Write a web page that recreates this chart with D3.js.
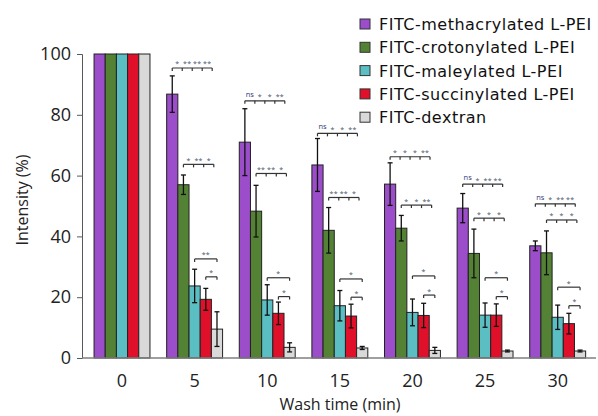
<!DOCTYPE html>
<html>
<head>
<meta charset="utf-8">
<script src="https://cdn.jsdelivr.net/npm/d3@7"></script>
<style>
  body { margin: 0; background: #fff; }
  svg { display: block; font-family: 'Open Sans', sans-serif; }
</style>
</head>
<body>
<div id="chart"></div>
<script>
// wash times (min) on the x axis
const washTimes = ['0', '5', '10', '15', '20', '25', '30'];
const seriesNames = [
  'FITC-methacrylated L-PEI',
  'FITC-crotonylated L-PEI',
  'FITC-maleylated L-PEI',
  'FITC-succinylated L-PEI',
  'FITC-dextran'
];
const colors = ['#9b4dca', '#548235', '#5bbec3', '#e0102a', '#d9d9d9'];

// mean intensity (%) per series
const methacrylated = [100, 86.8, 71, 63.5, 57.2, 49.3, 36.9];
const crotonylated = [100, 57, 48.3, 42, 42.7, 34.4, 34.6];
const maleylated = [100, 23.7, 19.1, 17.2, 15, 14.1, 13.4];
const succinylated = [100, 19.3, 14.7, 13.8, 14, 14.1, 11.3];
const dextran = [100, 9.5, 3.5, 3.3, 2.5, 2.3, 2.3];

// error (+/-)
const methacrylatedErr = [0, 6, 11, 8.7, 7, 4.8, 1.6];
const crotonylatedErr = [0, 3.2, 8.5, 7.5, 4.2, 8, 7.2];
const maleylatedErr = [0, 5.5, 5, 5, 4.4, 4, 4];
const succinylatedErr = [0, 3.6, 3.7, 3.9, 4, 3.7, 3.4];
const dextranErr = [0, 5.7, 1.5, 0.5, 1, 0.3, 0.3];

// significance brackets per time point: start series, height (in %), labels
const sig5 = [
  { from: 0, level: 95.4, labels: ['*', '**', '**', '**'] },
  { from: 1, level: 63.7, labels: ['*', '**', '*'] },
  { from: 2, level: 32.6, labels: ['**'] },
  { from: 3, level: 26.7, labels: ['*'] }
];
const sig10 = [
  { from: 0, level: 84.6, labels: ['ns', '*', '*', '**'] },
  { from: 1, level: 60.7, labels: ['**', '**', '*'] },
  { from: 2, level: 26.4, labels: ['*'] },
  { from: 3, level: 20.2, labels: ['*'] }
];
const sig15 = [
  { from: 0, level: 73.9, labels: ['ns', '*', '*', '**'] },
  { from: 1, level: 52.8, labels: ['**', '**', '*'] },
  { from: 2, level: 26, labels: ['*'] },
  { from: 3, level: 20, labels: ['*'] }
];
const sig20 = [
  { from: 0, level: 66.2, labels: ['*', '*', '*', '**'] },
  { from: 1, level: 50.3, labels: ['*', '*', '**'] },
  { from: 2, level: 27, labels: ['*'] },
  { from: 3, level: 20.7, labels: ['*'] }
];
const sig25 = [
  { from: 0, level: 57.2, labels: ['ns', '*', '**', '**'] },
  { from: 1, level: 46, labels: ['*', '*', '*'] },
  { from: 2, level: 26.4, labels: ['*'] },
  { from: 3, level: 20.2, labels: ['*'] }
];
const sig30 = [
  { from: 0, level: 50.7, labels: ['ns', '*', '**', '**'] },
  { from: 1, level: 45.4, labels: ['*', '*', '*'] },
  { from: 2, level: 23.3, labels: ['*'] },
  { from: 3, level: 17.2, labels: ['*'] }
];
const yTicks = [0, 20, 40, 60, 80, 100];

const means = [methacrylated, crotonylated, maleylated, succinylated, dextran];
const errs = [methacrylatedErr, crotonylatedErr, maleylatedErr, succinylatedErr, dextranErr];
const sigs = [[], sig5, sig10, sig15, sig20, sig25, sig30];

const width = 598, height = 416;
const svg = d3.select('#chart').append('svg')
  .attr('width', width)
  .attr('height', height);

const xScale = d3.scaleBand()
  .domain(washTimes)
  .range([85.7, 594])
  .paddingInner(0.23)
  .paddingOuter(0.115);
const xInner = d3.scaleBand()
  .domain(d3.range(seriesNames.length))
  .range([0, xScale.bandwidth()]);
const yScale = d3.scaleLinear()
  .domain([0, 100])
  .range([358, 54]);

const barData = [];
washTimes.forEach((t, i) => {
  means.forEach((s, k) => {
    barData.push({ time: t, idx: i, series: k, value: s[i], err: errs[k][i] });
  });
});
const barCenter = (i, k) => xScale(washTimes[i]) + xInner(k) + xInner.bandwidth() / 2;

// bars
svg.append('g')
  .selectAll('rect')
  .data(barData)
  .enter()
  .append('rect')
  .attr('x', (d) => xScale(d.time) + xInner(d.series))
  .attr('y', (d) => yScale(d.value))
  .attr('width', xInner.bandwidth())
  .attr('height', (d) => yScale(0) - yScale(d.value))
  .attr('fill', (d) => colors[d.series])
  .attr('stroke', '#222')
  .attr('stroke-width', 1);

// error bars
const errG = svg.append('g')
  .selectAll('g')
  .data(barData.filter((d) => d.err > 0))
  .enter()
  .append('g')
  .attr('stroke', '#111')
  .attr('stroke-width', 1.3);
errG.append('line')
  .attr('x1', (d) => barCenter(d.idx, d.series))
  .attr('x2', (d) => barCenter(d.idx, d.series))
  .attr('y1', (d) => yScale(d.value + d.err))
  .attr('y2', (d) => yScale(d.value - d.err));
[1, -1].forEach((sgn) => {
  errG.append('line')
    .attr('x1', (d) => barCenter(d.idx, d.series) - 2.5)
    .attr('x2', (d) => barCenter(d.idx, d.series) + 2.5)
    .attr('y1', (d) => yScale(d.value + sgn * d.err))
    .attr('y2', (d) => yScale(d.value + sgn * d.err));
});

// significance brackets
const sigG = svg.append('g');
sigs.forEach((list, i) => {
  list.forEach((b) => {
    const n = b.labels.length;
    const x0 = barCenter(i, b.from);
    const x1 = barCenter(i, seriesNames.length - 1) - (n - 1) * 1.6;
    const y = yScale(b.level);
    const step = (x1 - x0) / n;
    sigG.append('line')
      .attr('x1', x0).attr('x2', x1)
      .attr('y1', y).attr('y2', y)
      .attr('stroke', '#333')
      .attr('stroke-width', 1.2);
    d3.range(n + 1).forEach((j) => {
      sigG.append('line')
        .attr('x1', x0 + j * step).attr('x2', x0 + j * step)
        .attr('y1', y).attr('y2', y + 3)
        .attr('stroke', '#333')
        .attr('stroke-width', 1.2);
    });
    b.labels.forEach((lab, j) => {
      sigG.append('text')
        .text(lab)
        .attr('x', x0 + (j + 0.5) * step)
        .attr('y', lab === 'ns' ? y - 4 : y - 1.5)
        .attr('text-anchor', 'middle')
        .attr('font-size', lab === 'ns' ? '7.5px' : '7px')
        .attr('letter-spacing', lab === 'ns' ? '0' : '0.3px')
        .attr('fill', lab === 'ns' ? '#2f3a7a' : '#44546a');
    });
  });
});

// axes
const yAxis = svg.append('g')
  .attr('transform', 'translate(82,0)')
  .call(d3.axisLeft(yScale).tickValues(yTicks).tickSizeOuter(0).tickSize(5).tickPadding(6));
yAxis.select('.domain').attr('stroke', '#595959');
yAxis.selectAll('.tick line').attr('stroke', '#595959');
yAxis.selectAll('.tick text')
  .attr('font-size', '18px')
  .attr('font-family', "'Open Sans', sans-serif")
  .attr('fill', '#222');

svg.append('line')
  .attr('x1', 82).attr('x2', 596)
  .attr('y1', yScale(0)).attr('y2', yScale(0))
  .attr('stroke', '#7f7f7f')
  .attr('stroke-width', 1.5);

svg.append('g')
  .selectAll('text')
  .data(washTimes)
  .enter()
  .append('text')
  .text((d) => d)
  .attr('x', (d) => xScale(d) + xScale.bandwidth() / 2)
  .attr('y', 387)
  .attr('text-anchor', 'middle')
  .attr('font-size', '18px')
  .attr('fill', '#222');

// axis titles
svg.append('text')
  .text('Wash time (min)')
  .attr('x', 340)
  .attr('y', 410)
  .attr('text-anchor', 'middle')
  .attr('font-size', '16px')
  .attr('fill', '#222');
svg.append('text')
  .text('Intensity (%)')
  .attr('transform', 'translate(28,200) rotate(-90)')
  .attr('text-anchor', 'middle')
  .attr('font-size', '16px')
  .attr('fill', '#222');

// legend
const legend = svg.append('g')
  .selectAll('g')
  .data(seriesNames)
  .enter()
  .append('g')
  .attr('transform', (_, i) => `translate(360, ${19 + i * 23.3})`);
legend.append('rect')
  .attr('width', 10)
  .attr('height', 10)
  .attr('fill', (_, i) => colors[i])
  .attr('stroke', '#333')
  .attr('stroke-width', 1);
legend.append('text')
  .text((d) => d)
  .attr('x', 19)
  .attr('y', 11)
  .attr('font-family', "'DejaVu Sans', sans-serif")
  .attr('font-size', '16px')
  .attr('letter-spacing', '0.5px')
  .attr('fill', '#111');
</script>
</body>
</html>
